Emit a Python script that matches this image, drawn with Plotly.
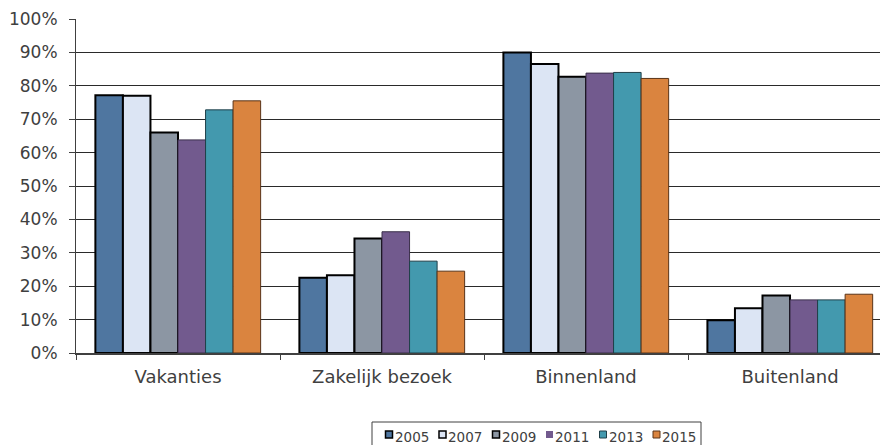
import plotly.graph_objects as go

categories = ["Vakanties", "Zakelijk bezoek", "Binnenland", "Buitenland"]
years = ["2005", "2007", "2009", "2011", "2013", "2015"]

v2005 = [77.2, 22.5, 90.0, 9.8]
v2007 = [77.0, 23.3, 86.5, 13.4]
v2009 = [66.0, 34.3, 82.7, 17.2]
v2011 = [63.8, 36.3, 83.8, 15.9]
v2013 = [72.8, 27.5, 84.0, 15.9]
v2015 = [75.5, 24.5, 82.2, 17.6]
values = [v2005, v2007, v2009, v2011, v2013, v2015]

colors = ["#4F76A0", "#DCE5F4", "#8C96A3", "#725A8E", "#4399AE", "#DA843F"]
line_w = [2, 2, 2, 1, 1, 1]
line_c = ["#000000", "#000000", "#000000", "#3a2f4a", "#1f3f48", "#5a3418"]

W, H = 880, 445
L, T, B = 76, 19, 92
pw, ph = W - L, H - T - B


def px(x):  # pixel -> paper x
    return (x - L) / pw


def py(y):  # pixel -> paper y
    return (H - B - y) / ph


fig = go.Figure()
for yr, vals, c, lw, lc in zip(years, values, colors, line_w, line_c):
    fig.add_trace(go.Bar(x=categories, y=[v / 100 for v in vals], name=yr,
                         marker=dict(color=c, line=dict(color=lc, width=lw))))

# legend box drawn by hand (compact like the original)
shapes = [dict(type="rect", xref="paper", yref="paper",
               x0=px(372), x1=px(701), y0=py(450), y1=py(422),
               line=dict(color="#404040", width=1), fillcolor="white")]
annotations = []
leg_lw = [1.5, 1.5, 1.5, 0, 1, 1]
for i, (yr, c, lw, lc) in enumerate(zip(years, colors, leg_lw, line_c)):
    x0 = 385.5 + 53.5 * i
    shapes.append(dict(type="rect", xref="paper", yref="paper",
                       x0=px(x0), x1=px(x0 + 7), y0=py(438), y1=py(431),
                       fillcolor=c, line=dict(color=lc, width=lw)))
    annotations.append(dict(text=yr, xref="paper", yref="paper", x=px(x0 + 7), y=py(436.5),
                            xanchor="left", yanchor="middle", showarrow=False,
                            font=dict(size=13.5, color="#404040")))

fig.update_layout(
    barmode="group", bargap=0.19, bargroupgap=0,
    width=W, height=H,
    margin=dict(l=L, r=0, t=T, b=B, pad=0),
    plot_bgcolor="white", paper_bgcolor="white",
    font=dict(family="DejaVu Sans", size=17, color="#404040"),
    showlegend=False,
    shapes=shapes, annotations=annotations,
)
fig.update_yaxes(range=[0, 1], dtick=0.1, tickformat=".0%", showgrid=True,
                 gridcolor="#2a2a2a", gridwidth=1, showline=True, linecolor="#404040",
                 linewidth=1, ticks="outside", ticklen=6, tickcolor="#404040",
                 ticklabelstandoff=8, zeroline=False, fixedrange=True)
fig.update_xaxes(range=[-0.5, 3.441], showline=True, linecolor="#404040", linewidth=2,
                 ticks="outside", tickson="boundaries", ticklen=5, tickcolor="#404040",
                 tickfont=dict(size=18), ticklabelstandoff=6, showgrid=False)

# drop the default body margin so the figure fills the window exactly
fig.write_html("out.html", config={"displayModeBar": False},
               post_script="document.body.style.margin='0';")
